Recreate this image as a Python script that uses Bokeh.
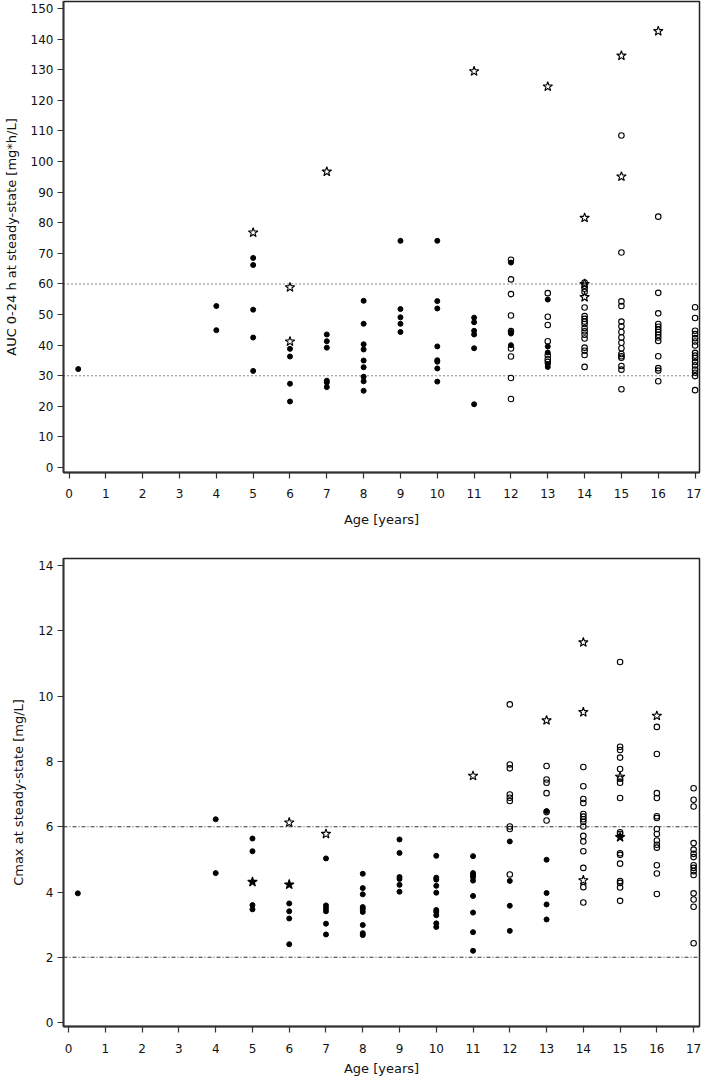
from bokeh.plotting import figure
from bokeh.models import Span, FixedTicker, Range1d
from bokeh.layouts import column
from bokeh.embed import file_html
from bokeh.resources import INLINE

# ---------------- Data: AUC 0-24 h (top panel) ----------------
auc_filled_age = [0.25, 4, 4, 5, 5, 5, 5, 5, 6, 6, 6, 6, 7, 7, 7, 7, 7, 7,
                  8, 8, 8, 8, 8, 8, 8, 8, 8, 9, 9, 9, 9, 9,
                  10, 10, 10, 10, 10, 10, 10, 10, 11, 11, 11, 11, 11, 11,
                  12, 12, 12, 12, 13, 13, 13, 13, 13]
auc_filled_val = [32.2, 52.8, 44.9, 68.5, 66.2, 51.6, 42.5, 31.6, 38.8, 36.3, 27.4, 21.6,
                  43.5, 41.3, 39.2, 28.4, 27.8, 26.3,
                  54.5, 47.0, 40.3, 38.6, 35.0, 32.8, 29.7, 28.2, 25.1,
                  74.1, 51.8, 49.1, 47.0, 44.3,
                  74.1, 54.4, 52.0, 39.6, 35.1, 34.6, 32.4, 28.1,
                  49.0, 47.5, 44.7, 43.5, 39.0, 20.7,
                  67.0, 44.3, 43.8, 40.0, 54.9, 39.6, 37.6, 33.8, 32.9]

auc_open_age = ([12] * 9 + [13] * 7 + [14] * 17 + [15] * 16 + [16] * 14 + [17] * 16)
auc_open_val = [67.9, 61.5, 56.7, 49.7, 44.6, 38.9, 36.3, 29.3, 22.4,
                57.0, 49.3, 46.6, 41.3, 36.7, 35.4, 34.5,
                60.5, 59.4, 58.4, 57.4, 52.3, 49.5, 48.6, 47.7, 46.9, 45.6, 44.5, 43.4, 42.2,
                39.2, 38.2, 36.8, 32.9,
                108.5, 70.3, 54.3, 52.8, 47.7, 46.2, 44.3, 42.5, 40.8, 39.0, 37.1, 36.4, 35.9,
                33.2, 32.0, 25.6,
                82.0, 57.1, 50.4, 46.9, 46.0, 45.1, 44.3, 43.4, 42.5, 41.4, 36.4, 32.5, 31.7, 28.2,
                52.4, 48.9, 44.7, 43.6, 42.3, 41.2, 39.9, 37.5, 36.6, 35.8, 34.5, 33.4, 32.0,
                31.0, 29.9, 25.3]

auc_star_age = [5, 6, 6, 7, 11, 13, 14, 14, 14, 15, 15, 16]
auc_star_val = [76.8, 58.9, 41.2, 96.7, 129.5, 124.5, 81.6, 60.0, 55.7, 134.6, 95.1, 142.6]

auc_ref_levels = [30, 60]
auc_ticks = list(range(0, 151, 10))

# ---------------- Data: Cmax (bottom panel) ----------------
cmax_filled_age = [0.25, 4, 4, 5, 5, 5, 5, 6, 6, 6, 6, 7, 7, 7, 7, 7, 7,
                   8, 8, 8, 8, 8, 8, 8, 8, 8, 9, 9, 9, 9, 9, 9,
                   10, 10, 10, 10, 10, 10, 10, 10, 10, 10,
                   11, 11, 11, 11, 11, 11, 11, 11, 11,
                   12, 12, 12, 12, 13, 13, 13, 13, 13]
cmax_filled_val = [3.96, 6.23, 4.58, 5.64, 5.25, 3.60, 3.47, 3.65, 3.41, 3.19, 2.40,
                   5.03, 3.59, 3.50, 3.41, 3.03, 2.70,
                   4.56, 4.12, 3.93, 3.54, 3.48, 3.39, 2.99, 2.74, 2.68,
                   5.61, 5.20, 4.46, 4.40, 4.22, 4.01,
                   5.11, 4.44, 4.38, 4.19, 3.98, 3.45, 3.39, 3.29, 3.04, 2.93,
                   5.10, 4.58, 4.52, 4.46, 4.35, 3.88, 3.37, 2.77, 2.20,
                   5.55, 4.34, 3.58, 2.81, 6.48, 4.99, 3.97, 3.62, 3.16]

cmax_open_age = ([12] * 9 + [13] * 6 + [14] * 15 + [15] * 17 + [16] * 14 + [17] * 15)
cmax_open_val = [9.75, 7.91, 7.79, 6.99, 6.89, 6.79, 6.01, 5.93, 4.54,
                 7.86, 7.45, 7.35, 7.03, 6.45, 6.19,
                 7.83, 7.24, 6.85, 6.73, 6.39, 6.31, 6.23, 6.15, 6.01, 5.72, 5.55, 5.25, 4.74,
                 4.15, 3.68,
                 11.05, 8.45, 8.35, 8.12, 7.77, 7.47, 7.35, 6.88, 5.83, 5.78, 5.19, 5.14, 4.87,
                 4.34, 4.28, 4.14, 3.73,
                 9.06, 8.23, 7.03, 6.88, 6.32, 6.27, 5.93, 5.78, 5.58, 5.45, 5.36, 4.82, 4.57, 3.94,
                 7.18, 6.83, 6.62, 5.50, 5.30, 5.17, 5.07, 4.82, 4.74, 4.64, 4.52, 3.96, 3.77,
                 3.55, 2.43]

cmax_star_age = [6, 7, 11, 13, 14, 14, 14, 15, 16]
cmax_star_val = [6.13, 5.78, 7.56, 9.26, 11.65, 9.51, 4.36, 7.53, 9.40]

cmax_fstar_age = [5, 6, 15]
cmax_fstar_val = [4.31, 4.23, 5.68]

cmax_ref_levels = [2, 6]
cmax_ticks = list(range(0, 15, 2))

age_ticks = list(range(0, 18))

FONT = "DejaVu Sans"
INK = "#111111"


def style(p, yticks, xlabel, ylabel):
    p.xgrid.visible = False
    p.ygrid.visible = False
    p.outline_line_color = "#222222"
    p.outline_line_width = 1.5
    p.background_fill_color = "white"
    p.border_fill_color = "white"
    p.xaxis.ticker = FixedTicker(ticks=age_ticks)
    p.yaxis.ticker = FixedTicker(ticks=yticks)
    for ax in (p.xaxis[0], p.yaxis[0]):
        ax.axis_line_color = "#333333"
        ax.axis_line_width = 1.8
        ax.major_tick_line_color = "#333333"
        ax.major_tick_line_width = 1.2
        ax.major_tick_out = 6
        ax.major_tick_in = 0
        ax.minor_tick_line_color = None
        ax.major_label_text_font = FONT
        ax.major_label_text_font_size = "12px"
        ax.major_label_text_color = INK
        ax.axis_label_text_font = FONT
        ax.axis_label_text_font_size = "13px"
        ax.axis_label_text_font_style = "normal"
        ax.axis_label_text_color = INK
    p.xaxis.axis_label = xlabel
    p.yaxis.axis_label = ylabel
    p.yaxis.major_label_standoff = 4
    p.yaxis.axis_label_standoff = 9


def points(p, fa, fv, oa, ov, sa, sv, fsa=None, fsv=None):
    p.scatter(fa, fv, marker="circle", size=5, fill_color="black", line_color="black")
    p.scatter(oa, ov, marker="circle", size=5.5, fill_color=None, line_color="black",
              line_width=1.1)
    p.scatter(sa, sv, marker="star", size=10, fill_color=None, line_color="black",
              line_width=1.1)
    if fsa is not None:
        p.scatter(fsa, fsv, marker="star", size=10, fill_color="black", line_color="black",
                  line_width=1.1)


# ---------------- Top panel ----------------
p1 = figure(width=701, height=540, output_backend="svg", toolbar_location=None,
            x_range=Range1d(-0.15, 17.12), y_range=Range1d(-1.6, 152.3),
            min_border_top=1, min_border_bottom=68, min_border_left=63, min_border_right=2)
style(p1, auc_ticks, "Age [years]", "AUC 0-24 h at steady-state [mg*h/L]")
p1.xaxis.major_label_standoff = 10
p1.xaxis.axis_label_standoff = 11
for lv in auc_ref_levels:
    p1.add_layout(Span(location=lv, dimension="width", line_color="#111111",
                       line_width=1.1, line_dash="1 3"))
points(p1, auc_filled_age, auc_filled_val, auc_open_age, auc_open_val,
       auc_star_age, auc_star_val)

# ---------------- Bottom panel ----------------
p2 = figure(width=701, height=538, output_backend="svg", toolbar_location=None,
            x_range=Range1d(-0.14, 17.16), y_range=Range1d(-0.12, 14.22),
            min_border_top=18, min_border_bottom=51, min_border_left=55, min_border_right=1)
style(p2, cmax_ticks, "Age [years]", "Cmax at steady-state [mg/L]")
p2.xaxis.major_label_standoff = 11
p2.xaxis.axis_label_standoff = 5
for lv in cmax_ref_levels:
    p2.add_layout(Span(location=lv, dimension="width", line_color="#333333",
                       line_width=1.1, line_dash="4 2 1 2"))
points(p2, cmax_filled_age, cmax_filled_val, cmax_open_age, cmax_open_val,
       cmax_star_age, cmax_star_val, cmax_fstar_age, cmax_fstar_val)

layout = column(p1, p2, spacing=0)
open("out.html", "w").write(file_html(layout, INLINE))
